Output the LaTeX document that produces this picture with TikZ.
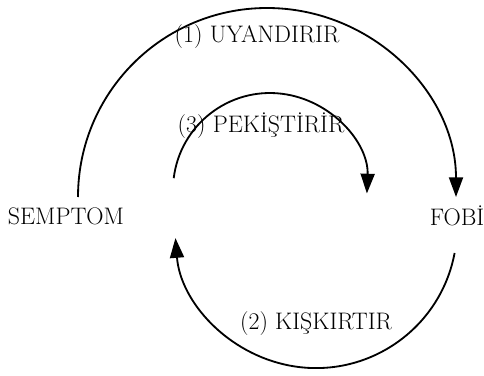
\documentclass[tikz,border=0pt]{standalone}
\usepackage{fontspec}
\usepackage{tikz}
\usetikzlibrary{arrows.meta,positioning}
\tikzset{
    % plain text labels, no frame
    termlabel/.style={
        inner sep=0pt,
        font=\fontsize{17}{20}\selectfont
    },
    actlabel/.style={
        inner sep=0pt,
        font=\fontsize{17}{20}\selectfont
    },
    cyclearrow/.style={
        -{Triangle[length=14pt,width=10pt]},
        line width=1.3pt,
        color=black
    }
}
\begin{document}
\begin{tikzpicture}[x=0.025cm,y=0.025cm]
    \useasboundingbox (0,0) rectangle (484,375);

    \node[termlabel] (semptom) at (66,159) {SEMPTOM};
    \node[termlabel] (fobi) at (457,159) {FOBİ};

    \node[actlabel] (uyandirir) at (257,338) {(1) UYANDIRIR};
    \node[actlabel] (pekistirir) at (261,249) {(3) PEKİŞTİRİR};
    \node[actlabel] (kiskirtir) at (316,51) {(2) KIŞKIRTIR};

    % start points of the three arcs
    \coordinate (outerstart) at (78,178);
    \coordinate (innerstart) at (173.7,196.8);
    \coordinate (lowerstart) at (454.6,122);

    \draw[cyclearrow] (outerstart) arc[start angle=180,end angle=0,radius=189];
    \draw[cyclearrow] (innerstart) arc[start angle=173,end angle=-2,radius=97];
    \draw[cyclearrow] (lowerstart) arc[start angle=-10.6,end angle=-175.5,radius=141];
\end{tikzpicture}
\end{document}
